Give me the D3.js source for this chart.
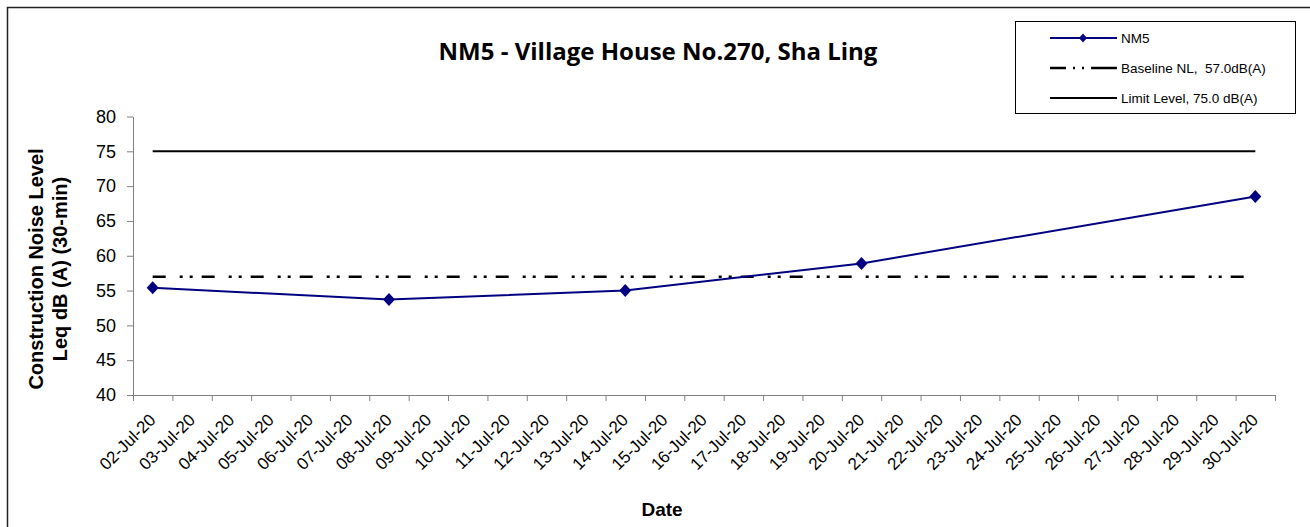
<!DOCTYPE html>
<html>
<head>
<meta charset="utf-8">
<script src="https://cdn.jsdelivr.net/npm/d3@7"></script>
<style>
  body { margin: 0; background: #fff; }
  svg { display: block; }
</style>
</head>
<body>
<svg id="chart" width="1310" height="527"></svg>
<script>
// category labels on the x axis
var dates = ["02-Jul-20", "03-Jul-20", "04-Jul-20", "05-Jul-20", "06-Jul-20", "07-Jul-20",
    "08-Jul-20", "09-Jul-20", "10-Jul-20", "11-Jul-20", "12-Jul-20", "13-Jul-20",
    "14-Jul-20", "15-Jul-20", "16-Jul-20", "17-Jul-20", "18-Jul-20", "19-Jul-20",
    "20-Jul-20", "21-Jul-20", "22-Jul-20", "23-Jul-20", "24-Jul-20", "25-Jul-20",
    "26-Jul-20", "27-Jul-20", "28-Jul-20", "29-Jul-20", "30-Jul-20"];

// measured points
var nm5Dates = ["02-Jul-20", "08-Jul-20", "14-Jul-20", "20-Jul-20", "30-Jul-20"];
var nm5Values = [55.4, 53.7, 55.0, 58.9, 68.5];

var baselineLevel = 57.0;
var limitLevel = 75.0;
var yTicks = [40, 45, 50, 55, 60, 65, 70, 75, 80];

var legendItems = ["NM5", "Baseline NL,  57.0dB(A)", "Limit Level, 75.0 dB(A)"];

var svg = d3.select("#chart");
var plot = {left: 133, right: 1275, top: 116.5, bottom: 395};

// outer frame (left + top edge visible)
svg.append("path")
    .attr("d", "M7.5,527V7.5H1310")
    .style("fill", "none")
    .style("stroke", "#222")
    .style("stroke-width", "1.5px");

var x = d3.scaleBand()
    .domain(dates)
    .range([plot.left, plot.right]);
var xIdx = d3.scaleLinear()
    .domain([0, dates.length])
    .range([plot.left, plot.right]);
var y = d3.scaleLinear()
    .domain([40, 80])
    .range([plot.bottom, plot.top]);

function cx(d) { return x(d) + x.bandwidth() / 2; }

// y axis
var yAxis = svg.append("g")
    .attr("transform", "translate(" + plot.left + ",0)")
    .call(d3.axisLeft(y).tickValues(yTicks).tickSize(6).tickSizeOuter(0).tickPadding(11));
yAxis.select(".domain").style("stroke", "#808080");
yAxis.selectAll(".tick line").style("stroke", "#808080");
yAxis.selectAll(".tick text")
    .style("font", "18px 'Liberation Sans', Arial, sans-serif")
    .style("fill", "#000");

// x axis, ticks between categories
var xAxis = svg.append("g")
    .attr("transform", "translate(0," + plot.bottom + ")")
    .call(d3.axisBottom(xIdx).tickValues(d3.range(0, dates.length + 1)).tickFormat("").tickSize(6).tickSizeOuter(0));
xAxis.select(".domain").style("stroke", "#808080");
xAxis.selectAll(".tick line").style("stroke", "#808080");

svg.append("g")
    .selectAll("text")
    .data(dates)
    .enter()
    .append("text")
    .attr("transform", function(d){
        return "translate(" + (cx(d) + 4) + "," + 421 + ") rotate(-45)";
    })
    .style("text-anchor", "end")
    .style("font", "17px 'Liberation Sans', Arial, sans-serif")
    .text(function(d){ return d; });

// limit & baseline
var x0 = cx(dates[0]), x1 = cx(dates[dates.length - 1]);
svg.append("line")
    .attr("x1", x0).attr("x2", x1)
    .attr("y1", y(limitLevel)).attr("y2", y(limitLevel))
    .style("stroke", "#000")
    .style("stroke-width", "2px");
svg.append("line")
    .attr("x1", x0).attr("x2", x1)
    .attr("y1", y(baselineLevel)).attr("y2", y(baselineLevel))
    .style("stroke", "#000")
    .style("stroke-width", "2.5px")
    .style("stroke-dasharray", "13,14,3,7,3,9");

// NM5 series
var pts = nm5Dates.map(function(d, i){ return {d: d, v: nm5Values[i]}; });
var line = d3.line()
    .x(function(p){ return cx(p.d); })
    .y(function(p){ return y(p.v); });
svg.append("path")
    .datum(pts)
    .attr("d", line)
    .style("fill", "none")
    .style("stroke", "#000080")
    .style("stroke-width", "2px");

function diamond(w, h) {
    return "M0," + (-h) + "L" + w + ",0L0," + h + "L" + (-w) + ",0Z";
}
svg.append("g")
    .selectAll("path")
    .data(pts)
    .enter()
    .append("path")
    .attr("transform", function(p){ return "translate(" + cx(p.d) + "," + y(p.v) + ")"; })
    .attr("d", diamond(6, 6.5))
    .style("fill", "#000080");

// title
svg.append("text")
    .attr("x", 658)
    .attr("y", 60)
    .style("text-anchor", "middle")
    .style("font", "bold 24px 'Open Sans', Lato, sans-serif")
    .text("NM5 - Village House No.270, Sha Ling");

// axis titles
svg.append("text")
    .attr("x", 662)
    .attr("y", 516)
    .style("text-anchor", "middle")
    .style("font", "bold 19px 'Liberation Sans', Arial, sans-serif")
    .text("Date");

var yl = svg.append("text")
    .attr("transform", "translate(0,269) rotate(-90)")
    .style("text-anchor", "middle")
    .style("font", "bold 20px 'Liberation Sans', Arial, sans-serif");
yl.append("tspan").attr("x", 0).attr("y", 43).text("Construction Noise Level");
yl.append("tspan").attr("x", 0).attr("y", 67).text("Leq dB (A) (30-min)");

// legend
var lg = svg.append("g");
lg.append("rect")
    .attr("x", 1015.5).attr("y", 21.5)
    .attr("width", 280).attr("height", 92)
    .style("fill", "#fff")
    .style("stroke", "#000")
    .style("stroke-width", "1px");
var rows = [38, 68, 98];
lg.append("line")
    .attr("x1", 1050).attr("x2", 1117).attr("y1", rows[0]).attr("y2", rows[0])
    .style("stroke", "#000080").style("stroke-width", "2px");
lg.append("path")
    .attr("transform", "translate(1083," + rows[0] + ")")
    .attr("d", diamond(4, 4.5))
    .style("fill", "#000080");
lg.append("line")
    .attr("x1", 1050).attr("x2", 1117).attr("y1", rows[1]).attr("y2", rows[1])
    .style("stroke", "#000").style("stroke-width", "2.5px")
    .style("stroke-dasharray", "16,7,2,7,2,7,30");
lg.append("line")
    .attr("x1", 1050).attr("x2", 1117).attr("y1", rows[2]).attr("y2", rows[2])
    .style("stroke", "#000").style("stroke-width", "2px");
lg.selectAll("text.item")
    .data(legendItems)
    .enter()
    .append("text")
    .attr("class", "item")
    .attr("x", 1121)
    .attr("y", function(d, i){ return rows[i] + 5; })
    .style("font", "13.5px 'Liberation Sans', Arial, sans-serif")
    .style("white-space", "pre")
    .text(function(d){ return d; });
</script>
</body>
</html>
